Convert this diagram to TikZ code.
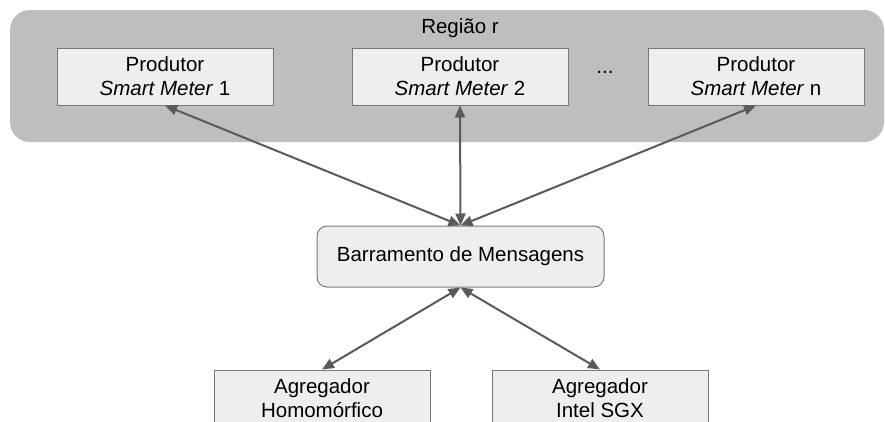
\documentclass[tikz,border=0pt]{standalone}
\usepackage{fontspec}
\setmainfont{Liberation Sans}
\usetikzlibrary{arrows.meta}
\definecolor{regionfill}{RGB}{190,190,190}
\definecolor{boxfill}{RGB}{238,238,238}
\definecolor{boxline}{RGB}{120,120,120}
\definecolor{arrowcol}{RGB}{90,90,90}
\begin{document}
\begin{tikzpicture}[x=1pt,y=-1pt,
  txt/.style={font=\fontsize{20.5}{24}\selectfont, text=black},
  boxnode/.style={txt, draw=boxline, line width=1pt, fill=boxfill, minimum width=216pt, minimum height=57pt, align=center, inner sep=0pt},
  busnode/.style={boxnode, rounded corners=10pt, minimum width=287pt, minimum height=61pt},
  link/.style={draw=arrowcol, line width=2pt, {Triangle[length=12pt,width=10pt]}-{Triangle[length=12pt,width=10pt]}}
]
\useasboundingbox (0,0) rectangle (885,421);
\clip (0,0) rectangle (885,421);
\fill[regionfill, rounded corners=20pt] (10,10) rectangle (884,142);
\node[txt] (regiao) at (460,28) {Região r};
\node[boxnode] (p1) at (165,76.5) {Produtor\\\textit{Smart Meter} 1};
\node[boxnode] (p2) at (460,76.5) {Produtor\\\textit{Smart Meter} 2};
\node[boxnode] (pn) at (756,76.5) {Produtor\\\textit{Smart Meter} n};
\node[txt] (dots) at (605,72) {...};
\node[busnode] (bus) at (460.5,256.5) {Barramento de Mensagens};
\node[boxnode] (ah) at (322,398.5) {Agregador\\Homomórfico};
\node[boxnode] (as) at (600,398.5) {Agregador\\Intel SGX};
\draw[link] (bus.north) -- (p1.south);
\draw[link] (bus.north) -- (p2.south);
\draw[link] (bus.north) -- (pn.south);
\draw[link] (bus.south) -- (ah.north);
\draw[link] (bus.south) -- (as.north);
\end{tikzpicture}
\end{document}
